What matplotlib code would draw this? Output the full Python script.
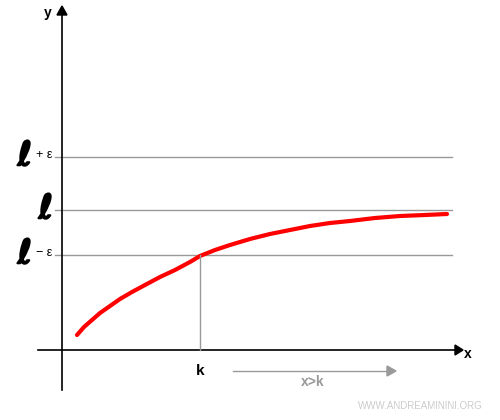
import matplotlib.pyplot as plt
import matplotlib.patheffects as pe

plt.rcParams['font.family'] = ['Liberation Sans', 'DejaVu Sans']

# curve samples (pixel coordinates)
curve_x = [77, 84, 92, 100, 110, 120, 132, 145, 160, 175, 190, 200, 215, 230, 250, 270, 290, 310, 330, 350, 375, 400, 425, 447]
curve_y = [335, 327, 320, 313, 306, 299, 292, 285, 277, 270, 262, 256, 250, 245, 239, 234, 230, 226, 223, 221, 218, 216, 215, 214]

levels_y = [157, 210, 255]
levels_lbl = [r"$\ell$", r"$\ell$", r"$\ell$"]
levels_sign = ["+ ε", "", "− ε"]
k_x = 200

fig = plt.figure(figsize=(5, 4.2), dpi=100)
ax = fig.add_axes([0, 0, 1, 1])
ax.set_xlim(0, 500)
ax.set_ylim(420, 0)
ax.axis("off")

bold = [pe.withStroke(linewidth=1.5, foreground="black")]

# horizontal reference lines and labels
for y, lab, sgn in zip(levels_y, levels_lbl, levels_sign):
    ax.plot([55, 452], [y, y], color="#999999", lw=1)
    if sgn:
        ax.text(25, y, lab, fontsize=24, ha="center", va="center", path_effects=bold)
        ax.text(44, y - 2, sgn, fontsize=9, ha="center", va="center")
    else:
        ax.text(46, y, lab, fontsize=24, ha="center", va="center", path_effects=bold)

# axes
ax.plot([38, 455], [350, 350], color="black", lw=1.2)
ax.plot([62, 62], [390, 15], color="black", lw=1.2)
ax.fill([455, 455, 463], [345, 355, 350], color="black")
ax.fill([57, 67, 62], [15, 15, 6], color="black")
ax.text(468, 354, "x", fontsize=10, fontweight="bold", ha="center", va="center")
ax.text(48, 13, "y", fontsize=10, fontweight="bold", ha="center", va="center")

# curve
ax.plot(curve_x, curve_y, color="red", lw=3, solid_capstyle="round")

# k marker
ax.plot([k_x, k_x], [255, 350], color="#999999", lw=1)
ax.text(k_x, 371, "k", fontsize=11, fontweight="bold", ha="center", va="center")
ax.plot([233, 387], [371, 371], color="#999999", lw=1)
ax.fill([387, 387, 396], [366, 376, 371], color="#999999")
ax.text(313, 382, "x>k", fontsize=10, fontweight="bold", color="#999999", ha="center", va="center")

ax.text(483, 406, "WWW.ANDREAMININI.ORG", fontsize=7, color="#cccccc", ha="right", va="center")

fig.savefig("out.png", dpi=100)
